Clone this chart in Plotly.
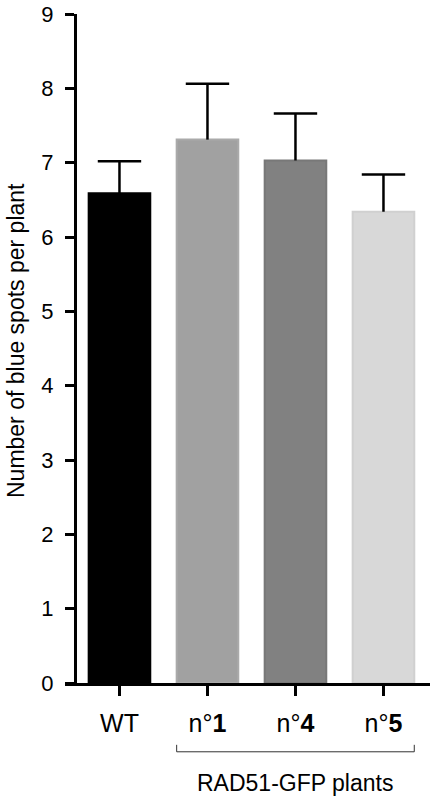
import plotly.graph_objects as go

categories = ["WT", "n°<b>1</b>", "n°<b>4</b>", "n°<b>5</b>"]
means = [6.59, 7.31, 7.03, 6.34]
errors = [0.43, 0.75, 0.63, 0.50]
fill_colors = ["#000000", "#a1a1a1", "#818181", "#d8d8d8"]
edge_colors = ["#000000", "#aaaaaa", "#787878", "#d0d0d0"]
y_ticks = [0, 1, 2, 3, 4, 5, 6, 7, 8, 9]
group_label = "RAD51-GFP plants"
y_title = "Number of blue spots per plant"

W, H = 432, 800
ml, mr, mt, mb = 65, 2, 12, 117
bar_w = 0.70

fig = go.Figure()
fig.add_trace(go.Bar(
    x=categories, y=means, width=bar_w,
    marker=dict(color=fill_colors, line=dict(color=edge_colors, width=2)),
    showlegend=False, hoverinfo="skip",
))

# error bars (upper only) drawn from data
ex, ey = [], []
for c, m, e in zip(categories, means, errors):
    ex += [c, c, None]
    ey += [m, m + e, None]
fig.add_trace(go.Scatter(x=ex, y=ey, mode="lines",
                         line=dict(color="black", width=2.5),
                         showlegend=False, hoverinfo="skip"))
fig.add_trace(go.Scatter(x=categories, y=[m + e for m, e in zip(means, errors)],
                         mode="markers",
                         marker=dict(symbol="line-ew", size=31,
                                     line=dict(color="black", width=2.5)),
                         showlegend=False, hoverinfo="skip"))

n = len(categories)
plot_w = W - ml - mr
plot_h = H - mt - mb
x_left = -0.619
x_right = x_left + plot_w / 88.0
y_axis_pos = (75 - ml) / plot_w

fig.update_layout(
    width=W, height=H,
    margin=dict(l=ml, r=mr, t=mt, b=mb),
    plot_bgcolor="white", paper_bgcolor="white",
    font=dict(family="Liberation Sans, Arial, sans-serif", color="black"),
    xaxis=dict(
        range=[x_left, x_right], showgrid=False, zeroline=False,
        showline=True, linecolor="black", linewidth=3,
        ticks="outside", ticklen=10, tickwidth=3, tickcolor="black",
        tickfont=dict(size=25), ticklabelstandoff=6,
        categoryorder="array", categoryarray=categories,
    ),
    yaxis=dict(
        range=[0, 9], tickvals=y_ticks, showgrid=False, zeroline=False,
        showline=True, linecolor="black", linewidth=3,
        ticks="outside", ticklen=9, tickwidth=3, tickcolor="black",
        tickfont=dict(size=22), ticklabelstandoff=7,
        ticklabeloverflow="allow",
        anchor="free", position=y_axis_pos,
    ),
)

# bracket under RAD51-GFP bars
yb = (683 - 752) / plot_h
yb_tip = (683 - 745) / plot_h
bx0 = 1 - bar_w / 2
bx1 = (n - 1) + bar_w / 2
fig.add_shape(type="path",
              path=f"M {bx0} {yb_tip} L {bx0} {yb} L {bx1} {yb} L {bx1} {yb_tip}",
              xref="x", yref="paper", line=dict(color="#333333", width=1))
fig.add_annotation(x=2, y=(683 - 783) / plot_h, xref="x", yref="paper",
                   text=group_label, showarrow=False, font=dict(size=23),
                   xanchor="center", yanchor="middle")
fig.add_annotation(x=(16 - ml) / plot_w, y=(683 - 340) / plot_h,
                   xref="paper", yref="paper", text=y_title, textangle=-90,
                   showarrow=False, font=dict(size=23),
                   xanchor="center", yanchor="middle")

fig.write_html("out.html",
               config={"displayModeBar": False},
               post_script="document.body.style.margin='0px';document.body.style.overflow='hidden';")
